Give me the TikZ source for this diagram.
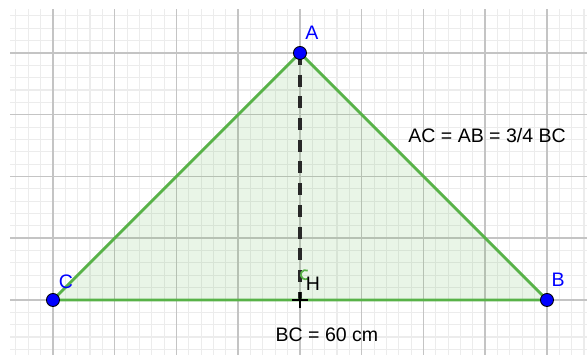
\documentclass[tikz,border=0pt]{standalone}
\usepackage{fontspec}
\setmainfont{Liberation Sans}
\definecolor{ggreen}{RGB}{88,178,72}
\definecolor{gblue}{RGB}{0,0,255}
\definecolor{minorgray}{RGB}{236,236,236}
\definecolor{majorgray}{RGB}{196,196,196}
\tikzset{
  minorgrid/.style={draw=minorgray, line width=0.5pt},
  majorgrid/.style={draw=majorgray, line width=0.7pt},
  side/.style={draw=ggreen, line width=1.3pt, line cap=round},
  pt/.style={circle, fill=gblue, draw=black, line width=0.4pt, minimum size=6pt, inner sep=0pt},
  ptlabel/.style={text=gblue, font=\fontsize{9}{10}\selectfont, inner sep=0pt},
  txt/.style={text=black, font=\fontsize{9}{10}\selectfont, inner sep=0pt},
  heightline/.style={draw={rgb,255:red,40;green,40;blue,40}, line width=1.4pt, dash pattern=on 5.5pt off 4.5pt}
}
\begin{document}
\begin{tikzpicture}
\useasboundingbox[fill=white] (-0.858,-0.891) rectangle (8.648,4.858);
\begin{scope}
\clip (-0.696,-0.891) rectangle (8.648,4.696);
\draw[minorgrid] (-0.8,-1) grid[step=0.2] (8.8,4.8);
\draw[majorgrid] (-1,-1) grid[step=1] (8.8,4.8);
\end{scope}
\coordinate (C) at (0,0);
\coordinate (B) at (8,0);
\coordinate (A) at (4,4);
\coordinate (H) at (4,0);
\fill[ggreen, fill opacity=0.13] (C) -- (B) -- (A) -- cycle;
\draw[heightline] (A) -- (H);
\draw[side] (C) -- (B) -- (A) -- cycle;
\draw[ggreen, line width=0.8pt] (4.125,0.475) arc[start angle=60, end angle=300, radius=0.075];
\draw[black, line width=1.2pt] (3.87,0) -- (4.13,0) (4,-0.13) -- (4,0.13);
\node[pt] (pA) at (A) {};
\node[pt] (pB) at (B) {};
\node[pt] (pC) at (C) {};
\node[ptlabel] (lA) at (4.194,4.324) {A};
\node[ptlabel] (lB) at (8.18,0.32) {B};
\node[ptlabel] (lC) at (0.21,0.29) {C};
\node[txt] (lH) at (4.21,0.27) {H};
\node[txt] (t1) at (7.03,2.656) {AC = AB = 3/4 BC};
\node[txt] (t2) at (4.437,-0.567) {BC = 60 cm};
\end{tikzpicture}
\end{document}
